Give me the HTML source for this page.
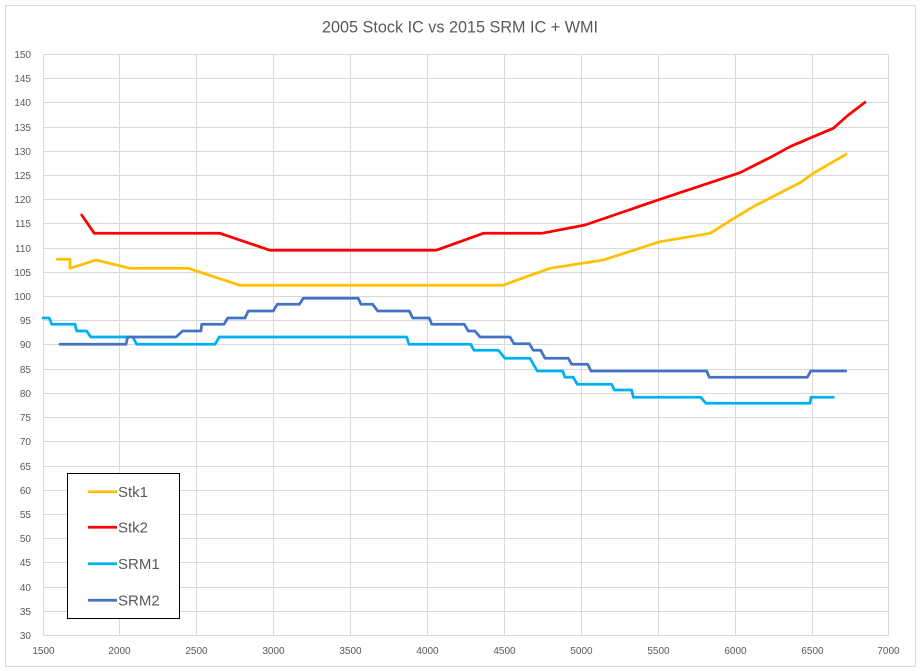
<!DOCTYPE html>
<html><head><meta charset="utf-8"><style>
html,body{margin:0;padding:0;background:#fff;}
svg{display:block;}
text{font-family:"Liberation Sans",sans-serif;fill:#595959;}
</style></head><body>
<svg width="920" height="671" viewBox="0 0 920 671" xmlns="http://www.w3.org/2000/svg">
<rect x="0" y="0" width="920" height="671" fill="#fff"/>
<rect x="5.5" y="5.5" width="910" height="661" fill="#fff" stroke="#d9d9d9" stroke-width="1"/>
<text x="460" y="32.7" font-size="16.5" text-anchor="middle" textLength="276" lengthAdjust="spacingAndGlyphs">2005 Stock IC vs 2015 SRM IC + WMI</text>
<g stroke="#d9d9d9" stroke-width="1" fill="none">
<path d="M43 54.5H888M43 78.5H888M43 102.5H888M43 127.5H888M43 151.5H888M43 175.5H888M43 199.5H888M43 223.5H888M43 248.5H888M43 272.5H888M43 296.5H888M43 320.5H888M43 344.5H888M43 369.5H888M43 393.5H888M43 417.5H888M43 441.5H888M43 466.5H888M43 490.5H888M43 514.5H888M43 538.5H888M43 562.5H888M43 587.5H888M43 611.5H888M43 635.5H888"/>
<path d="M43.5 54V636M119.5 54V636M196.5 54V636M273.5 54V636M350.5 54V636M427.5 54V636M504.5 54V636M581.5 54V636M658.5 54V636M735.5 54V636M812.5 54V636M888.5 54V636"/>
</g>
<g font-size="10" text-anchor="end">
<text x="31" y="58">150</text><text x="31" y="82">145</text><text x="31" y="106">140</text><text x="31" y="131">135</text><text x="31" y="155">130</text><text x="31" y="179">125</text><text x="31" y="203">120</text><text x="31" y="227">115</text><text x="31" y="252">110</text><text x="31" y="276">105</text><text x="31" y="300">100</text><text x="31" y="324">95</text><text x="31" y="348">90</text><text x="31" y="373">85</text><text x="31" y="397">80</text><text x="31" y="421">75</text><text x="31" y="445">70</text><text x="31" y="470">65</text><text x="31" y="494">60</text><text x="31" y="518">55</text><text x="31" y="542">50</text><text x="31" y="566">45</text><text x="31" y="591">40</text><text x="31" y="615">35</text><text x="31" y="639">30</text>
</g>
<g font-size="10" text-anchor="middle">
<text x="43.5" y="654">1500</text><text x="119.5" y="654">2000</text><text x="196.5" y="654">2500</text><text x="273.5" y="654">3000</text><text x="350.5" y="654">3500</text><text x="427.5" y="654">4000</text><text x="504.5" y="654">4500</text><text x="581.5" y="654">5000</text><text x="658.5" y="654">5500</text><text x="735.5" y="654">6000</text><text x="812.5" y="654">6500</text><text x="888.5" y="654">7000</text>
</g>
<g fill="none" stroke-width="2.75" stroke-linejoin="round" stroke-linecap="round">
<polyline stroke="#FF0000" points="81.7,215 94.3,233.3 220,233.3 270,250.3 436,250.3 483.3,233.3 541.7,233.3 585,225 660,199.3 710,182.7 740,172.7 771.7,156.7 790,146.7 813.3,136.7 833.3,128.3 848.3,115 865,102.3"/>
<polyline stroke="#FFC000" points="57.3,259.3 70,259.3 70,268.3 96,260 130,268.3 188.3,268.3 240,285.3 502.7,285.3 550,268.3 603.3,260 660,241.7 710,233.3 736.7,216.7 753.3,206.7 800,182.7 813.3,173.3 846,154.3"/>
<polyline stroke="#00B0F0" points="43,318 49.3,318 51.7,324.3 75,324.3 76.7,331 86.7,331 90.7,337 132.7,337 136.7,344.3 215,344.3 219.3,337 406.7,337 409,344.3 470.7,344.3 474,350.3 498.3,350.3 505,358.3 530,358.3 537.3,371 562.7,371 565,377.3 573.3,377.3 577.3,384.3 611.7,384.3 614.3,390 631.7,390 633.3,397.3 700.7,397.3 706,403.3 810,403.3 811,397.3 833.3,397.3"/>
<polyline stroke="#4472C4" points="60,344.3 126,344.3 127.7,337 176,337 182.7,331 201,331 201.7,324.3 224,324.3 227.7,318 245,318 248.3,311 273.3,311 277.3,304.3 299.3,304.3 303.3,298.3 358.3,298.3 361,304.3 372.7,304.3 377.7,311 409.3,311 412.7,318 429.3,318 431.7,324.3 464.3,324.3 468.3,331 475,331 480,337 510,337 514,343.7 529.3,343.7 533.3,350.3 540.7,350.3 545,358.3 568.3,358.3 571.7,364.3 587.7,364.3 591,371 706.7,371 709.3,377.3 807.3,377.3 810.7,371 845.7,371"/>
</g>
<rect x="67.5" y="473.5" width="112" height="145" fill="#fff" stroke="#000" stroke-width="1"/>
<g stroke-width="2.75">
<line x1="88" y1="491.7" x2="117" y2="491.7" stroke="#FFC000"/>
<line x1="88" y1="527.3" x2="117" y2="527.3" stroke="#FF0000"/>
<line x1="88" y1="563.7" x2="117" y2="563.7" stroke="#00B0F0"/>
<line x1="88" y1="600.3" x2="117" y2="600.3" stroke="#4472C4"/>
</g>
<g font-size="15">
<text x="118" y="497">Stk1</text>
<text x="118" y="532.6">Stk2</text>
<text x="118" y="569">SRM1</text>
<text x="118" y="605.6">SRM2</text>
</g>
</svg>
</body></html>
